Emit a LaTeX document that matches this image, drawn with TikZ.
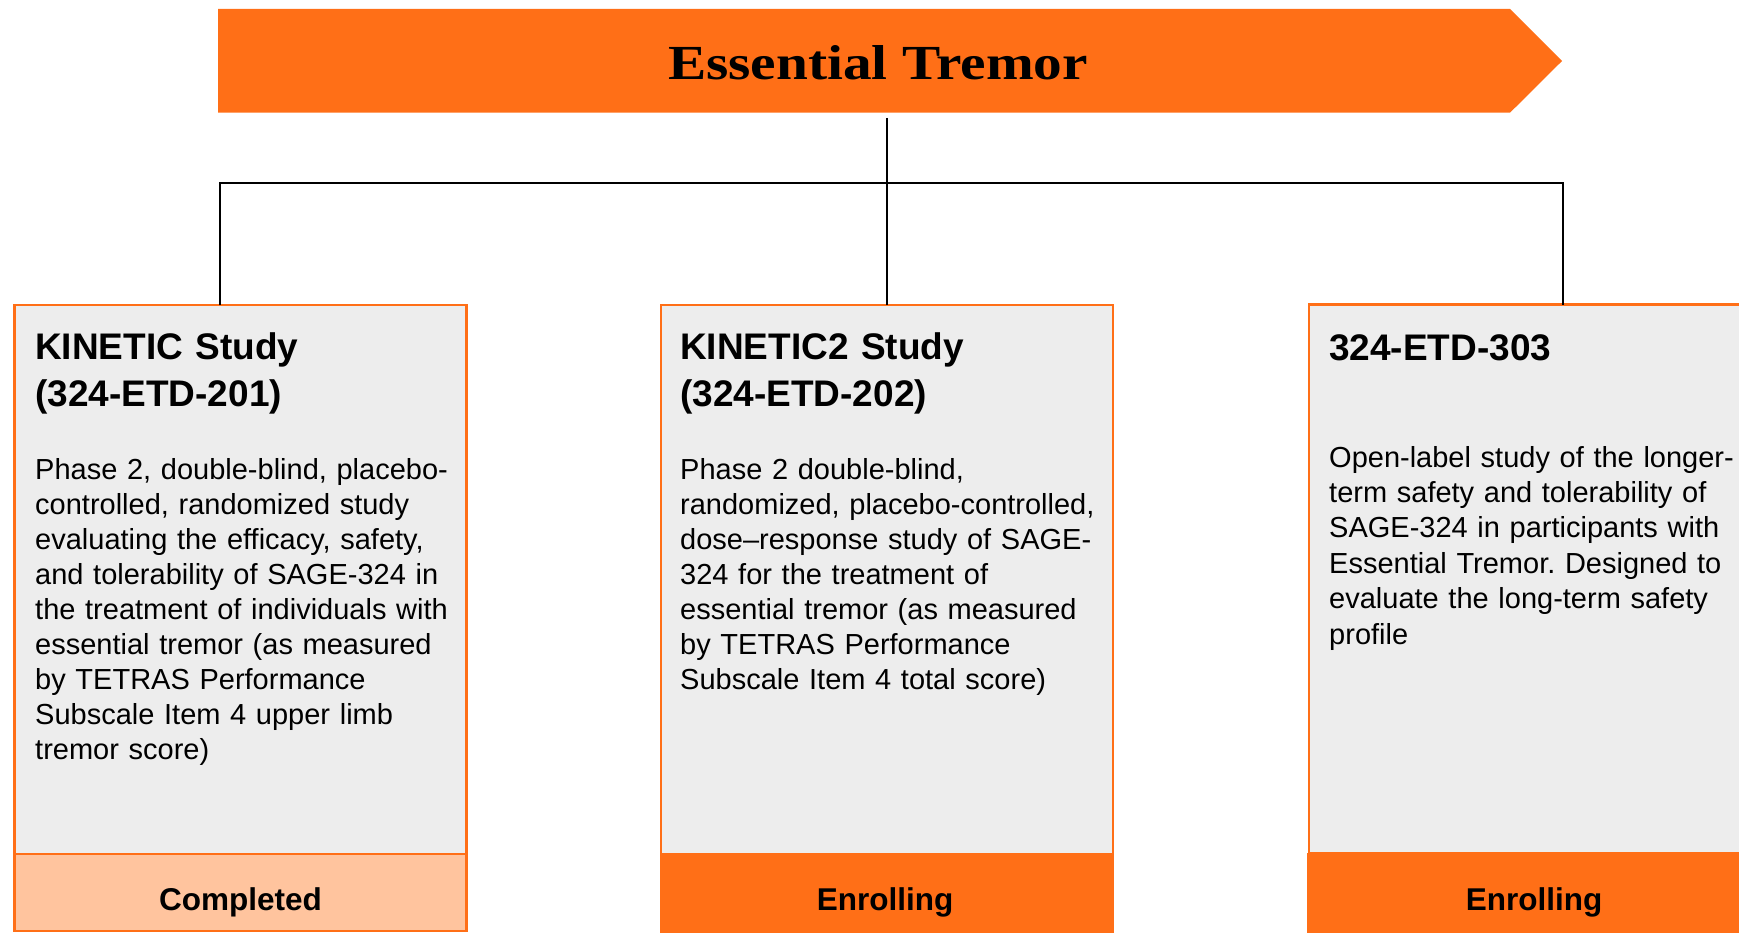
\documentclass[tikz,border=0pt]{standalone}
\usepackage{fontspec}
\setmainfont{Liberation Sans}
\newfontfamily\bannerfont{Liberation Serif}
\usetikzlibrary{calc}
\definecolor{etorange}{RGB}{255,111,23}
\definecolor{etpeach}{RGB}{255,196,158}
\definecolor{etgray}{RGB}{237,237,237}
\frenchspacing
\begin{document}
\begin{tikzpicture}[x=1pt,y=-1pt,
  card/.style={draw=etorange, line width=2.4pt, fill=etgray, minimum width=452pt, minimum height=549pt, inner sep=0pt, outer sep=0pt},
  statusdone/.style={draw=etorange, line width=2.4pt, fill=etpeach, minimum width=452pt, minimum height=77pt, inner sep=0pt, outer sep=0pt},
  statusopen/.style={fill=etorange, minimum width=454pt, minimum height=82pt, inner sep=0pt, outer sep=0pt},
  heading/.style={anchor=base west, text width=460pt, align=left, inner sep=0pt, font=\fontsize{37}{47}\selectfont\bfseries},
  body/.style={anchor=base west, text width=460pt, align=left, inner sep=0pt, font=\fontsize{29}{35}\selectfont},
  statustext/.style={anchor=base, inner sep=0pt, font=\fontsize{31.5}{38}\selectfont\bfseries},
  conn/.style={draw=black, line width=2pt}
]
\useasboundingbox (0,0) rectangle (1739,933);

% banner
\fill[etorange] (218,9) -- (1510,9) -- (1562,61) -- (1510,112.7) -- (218,112.7) -- cycle;
\node[anchor=base, inner sep=0pt, font=\bannerfont\bfseries\fontsize{49}{55}\selectfont] (title) at (878,79.3) {\scalebox{1.17}[1]{Essential Tremor}};

% cards
\node[card] (box1) at (240.5,579.5) {};
\node[statusdone] (st1) at (240.5,892.5) {};
\node[card] (box2) at (887,579.5) {};
\node[statusopen] (st2) at (887,894) {};
\node[card] (box3) at (1535,579) {};
\node[statusopen, minimum width=456pt] (st3) at (1535,894) {};

% connectors
\coordinate (top) at (887,118);
\coordinate (hub) at (887,183);
\coordinate (k1) at ($(box1.north west)+(205,0)$);
\coordinate (k3) at ($(box3.north west)+(254,0)$);
\draw[conn] (top) -- (box2.north);
\draw[conn] (k1) |- (hub) -| (k3);

% texts box 1
\node[heading] (h1) at (35,359.3) {KINETIC Study\\(324-ETD-201)};
\node[body] (b1) at (35,479) {Phase 2, double-blind, placebo-\\controlled, randomized study\\evaluating the efficacy, safety,\\and tolerability of SAGE-324 in\\the treatment of individuals with\\essential tremor (as measured\\by TETRAS Performance\\Subscale Item 4 upper limb\\tremor score)};
\node[statustext] (s1) at (240.5,910.7) {Completed};

% texts box 2
\node[heading] (h2) at (680,359.3) {KINETIC2 Study\\(324-ETD-202)};
\node[body] (b2) at (680,479) {Phase 2 double-blind,\\randomized, placebo-controlled,\\dose–response study of SAGE-\\324 for the treatment of\\essential tremor (as measured\\by TETRAS Performance\\Subscale Item 4 total score)};
\node[statustext] (s2) at (885,910.7) {Enrolling};

% texts box 3
\node[heading] (h3) at (1329,360) {324-ETD-303};
\node[body, font=\fontsize{29}{35.4}\selectfont] (b3) at (1329,467) {Open-label study of the longer-\\term safety and tolerability of\\SAGE-324 in participants with\\Essential Tremor. Designed to\\evaluate the long-term safety\\profile};
\node[statustext] (s3) at (1534,910.7) {Enrolling};
\end{tikzpicture}
\end{document}
